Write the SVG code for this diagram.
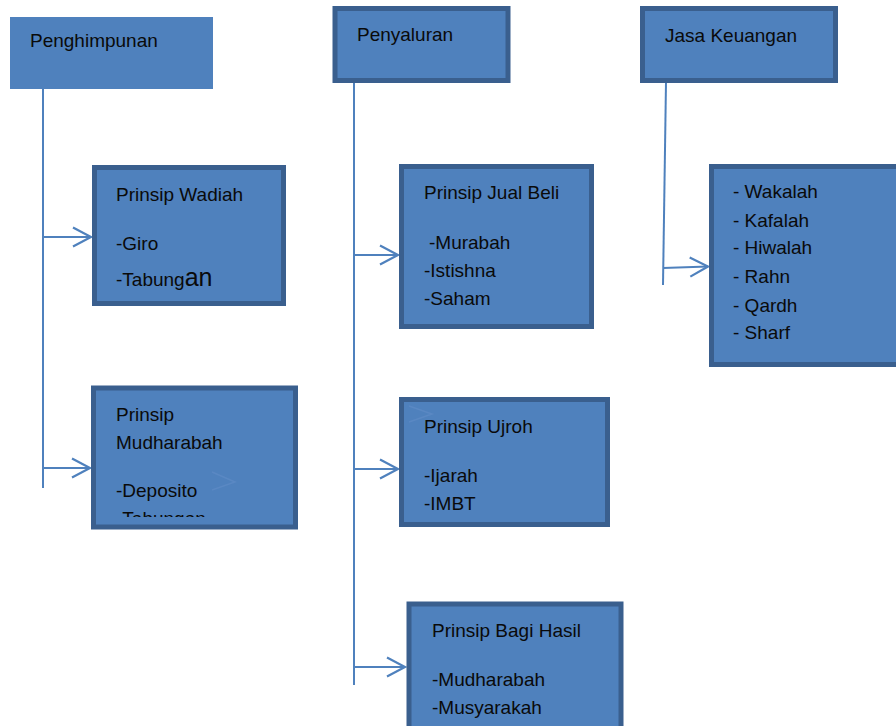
<svg xmlns="http://www.w3.org/2000/svg" width="896" height="726" viewBox="0 0 896 726">
<style>
.box{fill:#4F81BD;stroke:#3A5F8E;stroke-width:5}
.hdr{fill:#4F81BD}
.t{font-family:"Liberation Sans",Arial,sans-serif;font-size:19px;fill:#0a0a0a}
.ln{fill:none;stroke:#4F81BD;stroke-width:2}
.faint{fill:none;stroke:#5A88C3;stroke-width:1.5}
</style>
<defs>
<marker id="arr" markerUnits="userSpaceOnUse" markerWidth="24" markerHeight="24" refX="19" refY="10" orient="auto" viewBox="0 0 24 20">
<path d="M1,0.5 L19,10 L1,19.5" fill="none" stroke="#4F81BD" stroke-width="2.2"/>
</marker>
<clipPath id="clipM"><rect x="96" y="390" width="198" height="127"/></clipPath>
</defs>

<g id="connectors">
<line class="ln" x1="43" y1="89" x2="43" y2="488"/>
<line class="ln" x1="43" y1="237" x2="91" y2="237" marker-end="url(#arr)"/>
<line class="ln" x1="43" y1="468" x2="90" y2="468" marker-end="url(#arr)"/>
<line class="ln" x1="354" y1="82" x2="354" y2="685"/>
<line class="ln" x1="354" y1="255" x2="398" y2="255" marker-end="url(#arr)"/>
<line class="ln" x1="354" y1="469" x2="398" y2="469" marker-end="url(#arr)"/>
<line class="ln" x1="354" y1="667" x2="405" y2="667" marker-end="url(#arr)"/>
<line class="ln" x1="666" y1="82" x2="663" y2="285"/>
<line class="ln" x1="663" y1="268" x2="708" y2="266.5" marker-end="url(#arr)"/>
</g>

<g id="penghimpunan">
<rect class="hdr" x="10" y="17" width="203" height="72"/>
<text class="t" x="30" y="47">Penghimpunan</text>
</g>

<g id="wadiah">
<rect class="box" x="94.5" y="167.5" width="189" height="136"/>
<text class="t" x="116" y="201">Prinsip Wadiah</text>
<text class="t" x="116" y="250">-Giro</text>
<text class="t" x="116" y="286">-Tabung<tspan style="font-size:25px">an</tspan></text>
</g>

<g id="mudharabah">
<rect class="box" x="93.5" y="388" width="202" height="139"/>
<polyline class="faint" points="212,472 235,482 212,490"/>
<g clip-path="url(#clipM)">
<text class="t" x="116" y="421">Prinsip</text>
<text class="t" x="116" y="449">Mudharabah</text>
<text class="t" x="116" y="497">-Deposito</text>
<text class="t" x="116" y="525">-Tabungan</text>
</g>
</g>

<g id="penyaluran">
<rect class="box" x="335" y="8.5" width="173" height="72"/>
<text class="t" x="357" y="41">Penyaluran</text>
</g>

<g id="jualbeli">
<rect class="box" x="401.5" y="166.5" width="190" height="160"/>
<text class="t" x="424" y="199">Prinsip Jual Beli</text>
<text class="t" x="429" y="249">-Murabah</text>
<text class="t" x="424" y="277">-Istishna</text>
<text class="t" x="424" y="305">-Saham</text>
</g>

<g id="ujroh">
<rect class="box" x="401.5" y="399.5" width="206" height="125"/>
<polyline class="faint" points="409,406 432,414 409,422"/>
<text class="t" x="424" y="433">Prinsip Ujroh</text>
<text class="t" x="424" y="482">-Ijarah</text>
<text class="t" x="424" y="510">-IMBT</text>
</g>

<g id="bagihasil">
<rect class="box" x="409" y="604" width="212" height="130"/>
<text class="t" x="432" y="637">Prinsip Bagi Hasil</text>
<text class="t" x="432" y="686">-Mudharabah</text>
<text class="t" x="432" y="714">-Musyarakah</text>
</g>

<g id="jasakeuangan">
<rect class="box" x="642.5" y="8.5" width="193" height="72"/>
<text class="t" x="665" y="42">Jasa Keuangan</text>
</g>

<g id="jasa">
<rect class="box" x="711.5" y="166.5" width="200" height="198"/>
<text class="t" x="733" y="198">- Wakalah</text>
<text class="t" x="733" y="227">- Kafalah</text>
<text class="t" x="733" y="254">- Hiwalah</text>
<text class="t" x="733" y="283">- Rahn</text>
<text class="t" x="733" y="312">- Qardh</text>
<text class="t" x="733" y="339">- Sharf</text>
</g>
</svg>
